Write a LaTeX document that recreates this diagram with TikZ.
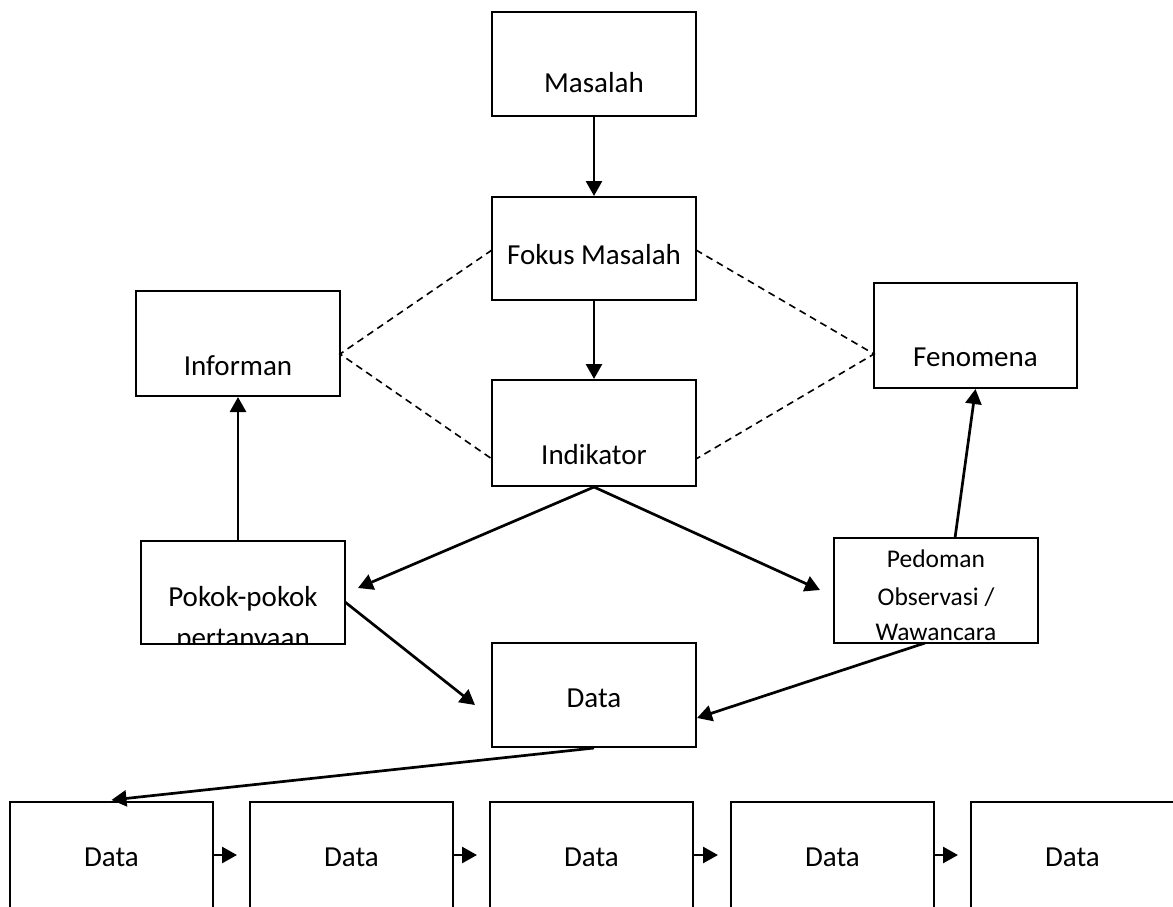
\documentclass[tikz,border=0pt]{standalone}
\usepackage{fontspec}
\setmainfont{Carlito}
\usetikzlibrary{arrows.meta,calc}
\begin{document}
\begin{tikzpicture}[x=1pt,y=-1pt,
  box/.style={draw, line width=2pt, minimum width=204pt, minimum height=104pt, inner sep=0pt, anchor=center},
  txt/.style={font=\fontsize{29}{35}\selectfont, inner sep=0pt, anchor=base},
  stxt/.style={font=\fontsize{25.5}{38}\selectfont, inner sep=0pt, anchor=base},
  arr/.style={line width=2.7pt, -{Triangle[length=15pt,width=16pt]}},
  dsh/.style={line width=1.6pt, dash pattern=on 7pt off 5pt}]
\useasboundingbox (0,0) rectangle (1173,906);
\clip (0,0) rectangle (1173,906);
% boxes
\node[box] (masalah) at (594,64) {};
\node[txt] (masalahT) at (594,92) {Masalah};
\node[box, minimum height=103pt] (fokus) at (594,248.5) {};
\node[txt] (fokusT) at (594,264) {Fokus Masalah};
\node[box, minimum height=105pt] (informan) at (238,343.5) {};
\node[txt] (informanT) at (238,375) {Informan};
\node[box, minimum width=203pt, minimum height=105pt] (fenomena) at (975.5,335.5) {};
\node[txt] (fenomenaT) at (975.5,366) {Fenomena};
\node[box, minimum height=106pt] (indikator) at (594,433) {};
\node[txt] (indikatorT) at (594,464) {Indikator};
\node[box, minimum height=103pt] (pokok) at (243,592.5) {};
\begin{scope}
\clip (141,541) rectangle (345,643);
\node[txt] (pokokA) at (243,606) {Pokok-pokok};
\node[txt] (pokokB) at (243,647) {pertanyaan};
\end{scope}
\node[box, minimum height=105pt] (pedoman) at (936,590.5) {};
\node[stxt] (pedA) at (936,567) {Pedoman};
\node[stxt] (pedB) at (936,605) {Observasi /};
\node[stxt] (pedC) at (936,640) {Wawancara};
\node[box] (data) at (594,695) {};
\node[txt] (dataT) at (594,707) {Data};
% bottom row
\foreach \i/\cx in {1/111.5,2/351.5,3/591.5,4/832.5,5/1072.5}{
  \node[box, minimum width=203pt, minimum height=110pt] (b\i) at (\cx,857) {};
  \node[txt] (b\i T) at (\cx,866) {Data};
}
\foreach \i/\j in {1/2,2/3,3/4,4/5}{
  \draw[arr] (b\i.east |- 0,855) -- ($(b\j.west |- 0,855)+(-12,0)$);
}
% vertical arrows
\draw[arr] (masalah.south) -- (fokus.north);
\draw[arr] (fokus.south) -- (indikator.north);
\draw[arr] (pokok.north -| informan.south) -- (informan.south);
% diagonal arrows
\coordinate (pkIn) at (358,588);
\coordinate (pdIn) at (820,590);
\draw[arr] (indikator.south) -- (pkIn);
\draw[arr] (indikator.south) -- (pdIn);
\coordinate (pkOut) at (345,602);
\coordinate (daIn) at (475,705);
\draw[arr] (pkOut) -- (daIn);
\coordinate (pdOut) at (925,643);
\coordinate (daIn2) at (697,718);
\draw[arr] (pdOut) -- (daIn2);
\coordinate (pdTop) at (955,538);
\draw[arr] (pdTop) -- (fenomena.south);
\draw[arr] (data.south) -- ($(b1.north)+(0,-1)$);
% dashed links
\coordinate (fkL) at (492,250);
\coordinate (fkR) at (696,250);
\coordinate (inR) at (340,354);
\coordinate (feL) at (874,354);
\coordinate (idL) at (492,459);
\coordinate (idR) at (696,459);
\draw[dsh] (fkL) -- (inR) -- (idL);
\draw[dsh] (fkR) -- (feL) -- (idR);
\end{tikzpicture}
\end{document}
